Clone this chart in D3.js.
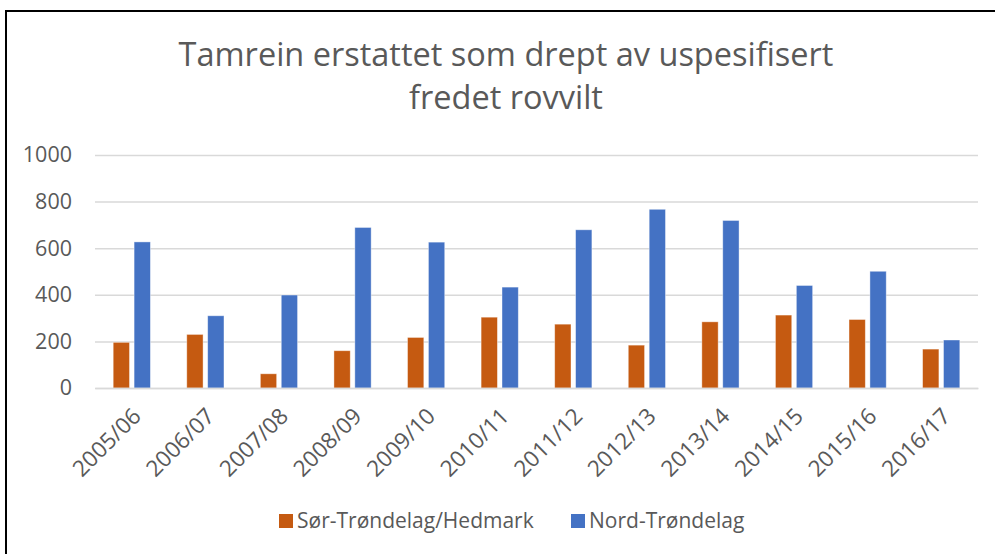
<!DOCTYPE html>
<html>
<head>
  <meta charset="utf-8">
  <title>Tamrein erstattet</title>
  <script src="https://cdn.jsdelivr.net/npm/d3@7"></script>
  <style type="text/css">
    body { margin: 0; background: #fff; }
    svg, svg text { font-family: "Open Sans", sans-serif; }
    .tick text { fill: #595959; }
  </style>
</head>
<body>
  <div id="chart"></div>
  <script type="text/javascript">
    var years = ["2005/06", "2006/07", "2007/08", "2008/09", "2009/10", "2010/11",
                 "2011/12", "2012/13", "2013/14", "2014/15", "2015/16", "2016/17"];
    var series = ["Sør-Trøndelag/Hedmark", "Nord-Trøndelag"];
    var sorTrondelag = [196, 230, 61, 160, 217, 304, 274, 184, 284, 313, 294, 167];
    var nordTrondelag = [627, 310, 399, 689, 626, 433, 679, 767, 719, 440, 501, 206];
    var yTicks = [0, 200, 400, 600, 800, 1000];
    var colors = ["#C55A11", "#4472C4"];

    var width = 995, height = 554;
    var margin = { top: 155, right: 17, bottom: 166, left: 95 };

    var svg = d3.select("#chart").append("svg")
      .attr("width", width)
      .attr("height", height);

    // frame of the chart area
    svg.append("path")
      .attr("d", "M6,560 L6,11 L1000,11")
      .attr("fill", "none")
      .attr("stroke", "#000")
      .attr("stroke-width", 2);

    // title
    var title = svg.append("text")
      .attr("x", 506)
      .attr("text-anchor", "middle")
      .attr("fill", "#595959")
      .style("font-size", "32.5px");
    title.append("tspan").attr("x", 506).attr("y", 66).text("Tamrein erstattet som drept av uspesifisert");
    title.append("tspan").attr("x", 506).attr("y", 109).text("fredet rovvilt");

    var x0 = d3.scaleBand()
      .domain(years)
      .range([margin.left, width - margin.right]);

    var x1 = d3.scaleBand()
      .domain(series)
      .range([0, x0.bandwidth()])
      .paddingInner(0.22)
      .paddingOuter(0.87);

    var y = d3.scaleLinear()
      .domain([0, 1000])
      .range([height - margin.bottom, margin.top]);

    // gridlines + y labels
    var yAxis = svg.append("g")
      .attr("transform", "translate(" + margin.left + ",0)")
      .call(d3.axisLeft(y).tickValues(yTicks).tickFormat(d3.format("d"))
        .tickSize(-(width - margin.left - margin.right)).tickPadding(23));
    yAxis.attr("font-family", null);
    yAxis.select(".domain").remove();
    yAxis.selectAll(".tick line").attr("stroke", "#d9d9d9").attr("stroke-width", 1.5);
    yAxis.selectAll(".tick text").style("font-size", "21.5px");

    // bars
    var rows = years.map(function (yr, i) {
      return { year: yr, values: [sorTrondelag[i], nordTrondelag[i]] };
    });

    svg.append("g").selectAll("g")
      .data(rows)
      .enter().append("g")
      .attr("transform", function (d) { return "translate(" + x0(d.year) + ",0)"; })
      .selectAll("rect")
      .data(function (d) { return d.values.map(function (v, j) { return { s: series[j], v: v, j: j }; }); })
      .enter().append("rect")
      .attr("x", function (d) { return x1(d.s); })
      .attr("width", x1.bandwidth())
      .attr("y", function (d) { return y(d.v); })
      .attr("height", function (d) { return y(0) - y(d.v); })
      .attr("fill", function (d) { return colors[d.j]; })
      .attr("stroke", "#fff")
      .attr("stroke-opacity", 0.5)
      .attr("stroke-width", 0.8);

    // x axis
    var xAxis = svg.append("g")
      .attr("transform", "translate(0," + y(0) + ")")
      .call(d3.axisBottom(x0).tickSize(0).tickPadding(0));
    xAxis.attr("font-family", null);
    xAxis.select(".domain").attr("stroke", "#d9d9d9").attr("stroke-width", 1.5);
    xAxis.selectAll(".tick text")
      .style("font-size", "22.5px")
      .attr("text-anchor", "end")
      .attr("transform", "translate(5,24) rotate(-45)")
      .attr("dy", "0.35em")
      .attr("y", 0);

    // legend
    var legendItems = [{ x: 279, tx: 297 }, { x: 571, tx: 589 }];
    var legend = svg.append("g").selectAll("g")
      .data(series)
      .enter().append("g");
    legend.append("rect")
      .attr("x", function (d, i) { return legendItems[i].x; })
      .attr("y", 514)
      .attr("width", 14)
      .attr("height", 14)
      .attr("fill", function (d, i) { return colors[i]; });
    legend.append("text")
      .attr("x", function (d, i) { return legendItems[i].tx; })
      .attr("y", 528)
      .attr("fill", "#595959")
      .style("font-size", "21px")
      .text(function (d) { return d; });
  </script>
</body>
</html>
